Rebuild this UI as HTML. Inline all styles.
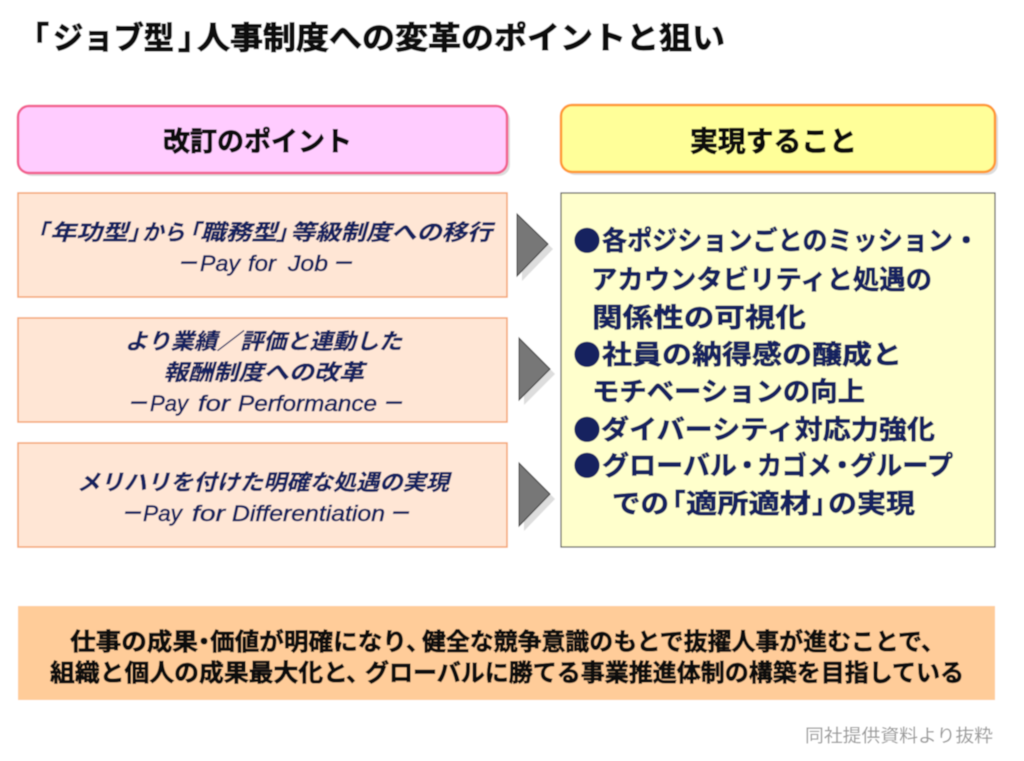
<!DOCTYPE html>
<html lang="ja"><head><meta charset="utf-8"><title>「ジョブ型」人事制度への変革のポイントと狙い</title>
<style>
html,body{margin:0;padding:0;background:#fff;width:1024px;height:761px;overflow:hidden}
svg{display:block}
text{font-family:"Liberation Sans","Noto Sans CJK JP",sans-serif;font-weight:700;text-anchor:start}
.t{font-size:31px;fill:#111;stroke:#111;stroke-width:1px}
.h{fill:#111;stroke:#111;stroke-width:.8px}
.navy{fill:#12215f}
.it{font-style:italic;font-size:22px;font-weight:700;stroke:#12215f;stroke-width:.3px}
.la{font-style:italic;font-size:22px;font-weight:400;stroke:#12215f;stroke-width:.55px}
.r{font-size:26.5px;stroke:#12215f;stroke-width:.65px}
.b{font-size:24px;fill:#111;stroke:#111;stroke-width:.7px}
.bl{font-family:"Noto Sans CJK JP",sans-serif;font-size:28px;stroke:none}
</style></head><body>
<svg width="1024" height="761" viewBox="0 0 1024 761" xmlns="http://www.w3.org/2000/svg">
<defs><filter id="s" x="-5%" y="-5%" width="110%" height="110%"><feGaussianBlur stdDeviation=".55"/></filter></defs>
<g filter="url(#s)">
<rect width="1024" height="761" fill="#fff"/>
<text class="t" x="18" y="49">「</text>
<text class="t" x="53" y="49" textLength="121" lengthAdjust="spacingAndGlyphs">ジョブ型</text>
<text class="t" x="178" y="49">」</text>
<text class="t" x="197" y="49" textLength="528" lengthAdjust="spacingAndGlyphs">人事制度への変革のポイントと狙い</text>

<rect x="21" y="109" width="489" height="67" rx="11" fill="#ddd"/>
<rect x="18" y="106" width="489" height="67" rx="11" fill="#ffccff" stroke="#f2608f" stroke-width="2.5"/>
<text class="h" x="163" y="151" font-size="27" textLength="189" lengthAdjust="spacingAndGlyphs">改訂のポイント</text>
<rect x="564" y="108" width="434" height="67" rx="11" fill="#ddd"/>
<rect x="561" y="105" width="434" height="67" rx="11" fill="#ffff99" stroke="#ff9933" stroke-width="2.5"/>
<text class="h" x="690" y="151" font-size="28" textLength="167" lengthAdjust="spacingAndGlyphs">実現すること</text>

<g fill="#ffe6d5" stroke="#f5a472" stroke-width="1.5">
<rect x="18" y="193" width="489" height="104"/>
<rect x="18" y="318" width="489" height="104"/>
<rect x="18" y="443" width="489" height="104"/>
</g>
<g class="navy">
<text class="it" x="26" y="240">「</text>
<text class="it" x="50" y="240" textLength="78" lengthAdjust="spacingAndGlyphs">年功型</text>
<text class="it" x="128" y="240">」</text>
<text class="it" x="142" y="240" textLength="43" lengthAdjust="spacingAndGlyphs">から</text>
<text class="it" x="178" y="240">「</text>
<text class="it" x="200" y="240" textLength="77" lengthAdjust="spacingAndGlyphs">職務型</text>
<text class="it" x="276" y="240">」</text>
<text class="it" x="290" y="240" textLength="202" lengthAdjust="spacingAndGlyphs">等級制度への移行</text>

<text class="it" x="176" y="271">－</text>
<text class="la" x="200" y="271" textLength="40" lengthAdjust="spacingAndGlyphs">Pay</text>
<text class="la" x="248" y="271" textLength="28" lengthAdjust="spacingAndGlyphs">for</text>
<text class="la" x="288" y="271" textLength="40" lengthAdjust="spacingAndGlyphs">Job</text>
<text class="it" x="331" y="271">－</text>

<text class="it" x="125" y="349" textLength="277" lengthAdjust="spacingAndGlyphs">より業績／評価と連動した</text>
<text class="it" x="163" y="380" textLength="201" lengthAdjust="spacingAndGlyphs">報酬制度への改革</text>

<text class="it" x="126" y="411">－</text>
<text class="la" x="150" y="411" textLength="38" lengthAdjust="spacingAndGlyphs">Pay</text>
<text class="la" x="198" y="411" textLength="32" lengthAdjust="spacingAndGlyphs">for</text>
<text class="la" x="238" y="411" textLength="139" lengthAdjust="spacingAndGlyphs">Performance</text>
<text class="it" x="381" y="411">－</text>

<text class="it" x="77" y="490" textLength="372" lengthAdjust="spacingAndGlyphs">メリハリを付けた明確な処遇の実現</text>

<text class="it" x="120" y="521">－</text>
<text class="la" x="143" y="521" textLength="39" lengthAdjust="spacingAndGlyphs">Pay</text>
<text class="la" x="192" y="521" textLength="33" lengthAdjust="spacingAndGlyphs">for</text>
<text class="la" x="232" y="521" textLength="153" lengthAdjust="spacingAndGlyphs">Differentiation</text>
<text class="it" x="388" y="521">－</text>
</g>

<g fill="#ddd">
<polygon points="522,219 553,249 522,281"/>
<polygon points="524,343 555,374 524,405"/>
<polygon points="524,468 555,499 524,531"/>
</g>
<g fill="#777" stroke="#333" stroke-width="1">
<polygon points="517,214 548,244 517,276"/>
<polygon points="519,338 550,369 519,400"/>
<polygon points="519,463 550,494 519,526"/>
</g>

<rect x="561" y="193" width="434" height="354" fill="#ffffcc" stroke="#555" stroke-width="1.2"/>
<g class="navy">
<text class="bl" x="573" y="251">●</text>
<text class="r" x="602" y="250" textLength="351" lengthAdjust="spacingAndGlyphs">各ポジションごとのミッション</text>
<text class="r" x="953" y="250">・</text>
<text class="r" x="591" y="289" textLength="341" lengthAdjust="spacingAndGlyphs">アカウンタビリティと処遇の</text>
<text class="r" x="592" y="327" textLength="214" lengthAdjust="spacingAndGlyphs">関係性の可視化</text>
<text class="bl" x="573" y="365">●</text>
<text class="r" x="602" y="364" textLength="300" lengthAdjust="spacingAndGlyphs">社員の納得感の醸成と</text>
<text class="r" x="592" y="401" textLength="273" lengthAdjust="spacingAndGlyphs">モチベーションの向上</text>
<text class="bl" x="573" y="440">●</text>
<text class="r" x="601" y="439" textLength="334" lengthAdjust="spacingAndGlyphs">ダイバーシティ対応力強化</text>
<text class="bl" x="573" y="476">●</text>
<text class="r" x="602" y="475" textLength="135" lengthAdjust="spacingAndGlyphs">グローバル</text>
<text class="r" x="734" y="475">・</text>
<text class="r" x="757" y="475" textLength="75" lengthAdjust="spacingAndGlyphs">カゴメ</text>
<text class="r" x="829" y="475">・</text>
<text class="r" x="850" y="475" textLength="103" lengthAdjust="spacingAndGlyphs">グループ</text>
<text class="r" x="612" y="513" textLength="57" lengthAdjust="spacingAndGlyphs">での</text>
<text class="r" x="659" y="513">「</text>
<text class="r" x="686" y="513" textLength="125" lengthAdjust="spacingAndGlyphs">適所適材</text>
<text class="r" x="812" y="513">」</text>
<text class="r" x="828" y="513" textLength="87" lengthAdjust="spacingAndGlyphs">の実現</text>
</g>

<rect x="18" y="606" width="977" height="94" fill="#ffcc99"/>
<text class="b" x="70" y="650" textLength="128" lengthAdjust="spacingAndGlyphs">仕事の成果</text>
<text class="b" x="192" y="650">・</text>
<text class="b" x="210" y="650" textLength="197" lengthAdjust="spacingAndGlyphs">価値が明確になり</text>
<text class="b" x="406" y="650">、</text>
<text class="b" x="422" y="650" textLength="500" lengthAdjust="spacingAndGlyphs">健全な競争意識のもとで抜擢人事が進むことで</text>
<text class="b" x="921" y="650">、</text>
<text class="b" x="50" y="681" textLength="298" lengthAdjust="spacingAndGlyphs">組織と個人の成果最大化と</text>
<text class="b" x="346" y="681">、</text>
<text class="b" x="365" y="681" textLength="599" lengthAdjust="spacingAndGlyphs">グローバルに勝てる事業推進体制の構築を目指している</text>
<text x="805" y="742" font-size="18" fill="#9a9a9a" style="font-weight:400" textLength="188" lengthAdjust="spacingAndGlyphs">同社提供資料より抜粋</text>
</g>
</svg>
</body></html>
